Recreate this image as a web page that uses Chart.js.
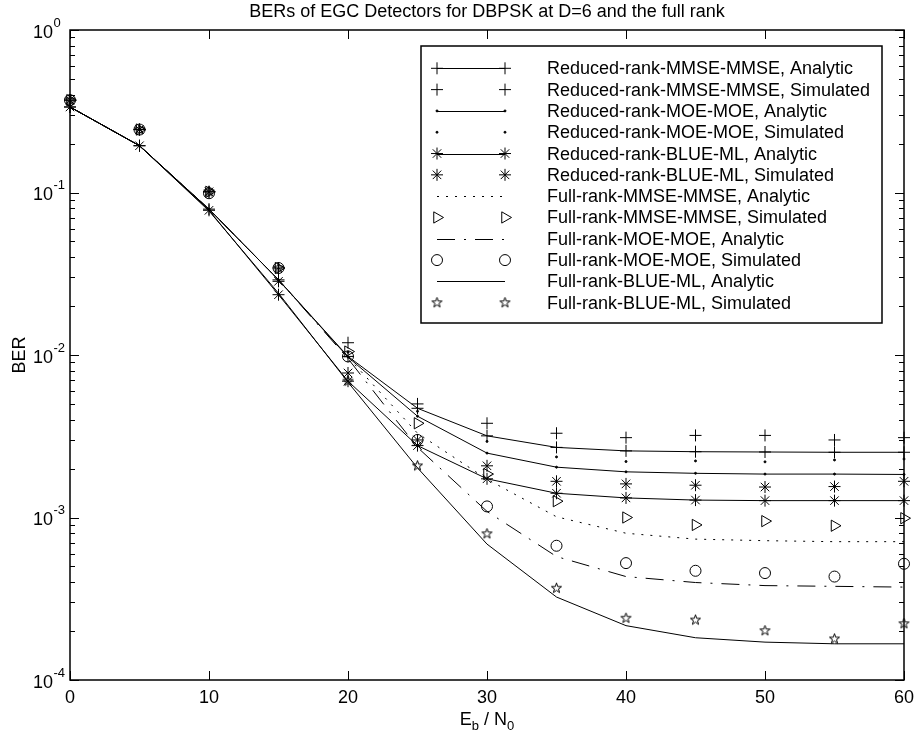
<!DOCTYPE html>
<html>
<head>
<meta charset="utf-8">
<title>BERs of EGC Detectors</title>
<script src="https://cdn.jsdelivr.net/npm/chart.js@4.4.1/dist/chart.umd.min.js"></script>
<style>
  html, body { margin: 0; padding: 0; background: #fff; }
  canvas { display: block; }
</style>
</head>
<body>
<canvas id="ber" width="915" height="740"></canvas>
<script>
// ---- data: BER vs Eb/N0 (dB) ----
const snr = [0, 5, 10, 15, 20, 25, 30, 35, 40, 45, 50, 55, 60];

const rrMmseAna = [0.336, 0.194, 0.079, 0.029, 0.0098, 0.0047, 0.00318, 0.0027, 0.00257, 0.00254, 0.00253, 0.00252, 0.00252];
const rrMmseSim = [0.37, 0.244, 0.101, 0.0343, 0.0119, 0.0050, 0.0038, 0.0033, 0.0031, 0.0032, 0.0032, 0.0030, 0.0031];
const rrMoeAna  = [0.336, 0.194, 0.079, 0.029, 0.0097, 0.0042, 0.00249, 0.00204, 0.00191, 0.00187, 0.00185, 0.00185, 0.00184];
const rrMoeSim  = [0.37, 0.244, 0.101, 0.034, 0.0104, 0.0045, 0.00294, 0.00236, 0.00221, 0.00223, 0.0022, 0.00226, 0.00229];
const rrBlueAna = [0.336, 0.194, 0.0777, 0.0235, 0.0069, 0.00277, 0.00173, 0.00141, 0.00132, 0.00128, 0.00127, 0.00127, 0.00127];
const rrBlueSim = [0.37, 0.244, 0.101, 0.0284, 0.00775, 0.0030, 0.00208, 0.00167, 0.00161, 0.00158, 0.00154, 0.00155, 0.00167];
const frMmseAna = [0.336, 0.194, 0.079, 0.029, 0.0097, 0.0033, 0.00172, 0.00101, 0.0008, 0.000736, 0.00072, 0.00071, 0.00071];
const frMmseSim = [0.37, 0.244, 0.101, 0.0343, 0.0105, 0.0038, 0.00185, 0.00126, 0.0010, 0.0009, 0.00095, 0.00089, 0.00099];
const frMoeAna  = [0.336, 0.194, 0.079, 0.029, 0.0095, 0.0027, 0.00109, 0.000575, 0.000433, 0.000398, 0.000381, 0.000377, 0.000373];
const frMoeSim  = [0.37, 0.244, 0.099, 0.0343, 0.0098, 0.0030, 0.00117, 0.00067, 0.000524, 0.00047, 0.000455, 0.000433, 0.000519];
const frBlueAna = [0.336, 0.194, 0.077, 0.024, 0.0068, 0.00202, 0.000686, 0.000324, 0.000216, 0.000182, 0.000171, 0.000167, 0.000167];
const frBlueSim = [0.37, 0.244, 0.101, 0.0343, 0.0069, 0.00208, 0.000794, 0.000367, 0.00024, 0.000234, 0.000201, 0.000179, 0.000222];

const seriesNames = [
    'Reduced-rank-MMSE-MMSE, Analytic',
    'Reduced-rank-MMSE-MMSE, Simulated',
    'Reduced-rank-MOE-MOE, Analytic',
    'Reduced-rank-MOE-MOE, Simulated',
    'Reduced-rank-BLUE-ML, Analytic',
    'Reduced-rank-BLUE-ML, Simulated',
    'Full-rank-MMSE-MMSE, Analytic',
    'Full-rank-MMSE-MMSE, Simulated',
    'Full-rank-MOE-MOE, Analytic',
    'Full-rank-MOE-MOE, Simulated',
    'Full-rank-BLUE-ML, Analytic',
    'Full-rank-BLUE-ML, Simulated',
];

const xTicks = [0, 10, 20, 30, 40, 50, 60];
const yDecades = [1, 1e-1, 1e-2, 1e-3, 1e-4];
const yExponents = ['0', '-1', '-2', '-3', '-4'];

const titleText = 'BERs of EGC Detectors for DBPSK at D=6 and the full rank';

// ---- styles ----
const FONT = '"Liberation Sans", Arial, Helvetica, sans-serif';
const SOLID = [];
const DOTTED = [2, 7];
const DASHDOT = [18, 9, 2, 9];

// five-pointed star marker, drawn once to an offscreen canvas
function makePentagram(r) {
    const size = Math.ceil(r * 2 + 4);
    const c = document.createElement('canvas');
    c.width = size; c.height = size;
    const g = c.getContext('2d');
    g.beginPath();
    for (let i = 0; i < 10; i++) {
        const rad = i % 2 === 0 ? r : r * 0.40;
        const a = -Math.PI / 2 + i * Math.PI / 5;
        const px = size / 2 + rad * Math.cos(a);
        const py = size / 2 + rad * Math.sin(a);
        i === 0 ? g.moveTo(px, py) : g.lineTo(px, py);
    }
    g.closePath();
    g.lineWidth = 1;
    g.strokeStyle = '#000';
    g.stroke();
    return c;
}

const MARK = {
    plus:  { pointStyle: 'cross', pointRadius: 6 },
    dot:   { pointStyle: 'circle', pointRadius: 1, pointBackgroundColor: '#000' },
    aster: { pointStyle: 'star', pointRadius: 6 },
    tri:   { pointStyle: 'triangle', pointRadius: 6.5, pointRotation: 90 },
    ring:  { pointStyle: 'circle', pointRadius: 5.5 },
    penta: { pointStyle: makePentagram(5.3), pointRadius: 5 },
    none:  { pointRadius: 0 },
};

// [values, marker, line] per legend row; line null = markers only
const rows = [
    [rrMmseAna, 'plus', SOLID],
    [rrMmseSim, 'plus', null],
    [rrMoeAna, 'dot', SOLID],
    [rrMoeSim, 'dot', null],
    [rrBlueAna, 'aster', SOLID],
    [rrBlueSim, 'aster', null],
    [frMmseAna, 'none', DOTTED],
    [frMmseSim, 'tri', null],
    [frMoeAna, 'none', DASHDOT],
    [frMoeSim, 'ring', null],
    [frBlueAna, 'none', SOLID],
    [frBlueSim, 'penta', null],
];

const datasets = rows.map(([ys, mark, line], i) => Object.assign({
    label: seriesNames[i],
    data: snr.map((x, k) => ({ x, y: ys[k] })),
    showLine: line !== null,
    borderColor: '#000',
    borderWidth: 1,
    borderDash: line || [],
    pointBorderColor: '#000',
    pointBackgroundColor: 'rgba(0,0,0,0)',
    pointBorderWidth: 1,
    pointHoverRadius: 0,
    tension: 0,
    fill: false,
    clip: 12,
}, MARK[mark]));

// ---- legend marker drawing (same shapes as the chart points) ----
function drawMarker(ctx, mark, px, py) {
    const m = MARK[mark];
    if (m.pointRadius === 0) return;
    const r = m.pointRadius;
    ctx.beginPath();
    if (m.pointStyle === 'cross') {
        ctx.moveTo(px - r, py); ctx.lineTo(px + r, py);
        ctx.moveTo(px, py - r); ctx.lineTo(px, py + r);
        ctx.stroke();
    } else if (m.pointStyle === 'star') {
        for (let k = 0; k < 4; k++) {
            const a = k * Math.PI / 4;
            ctx.moveTo(px - r * Math.cos(a), py - r * Math.sin(a));
            ctx.lineTo(px + r * Math.cos(a), py + r * Math.sin(a));
        }
        ctx.stroke();
    } else if (m.pointStyle === 'triangle') {
        for (let k = 0; k < 3; k++) {
            const a = k * 2 * Math.PI / 3;
            const vx = px + r * Math.cos(a), vy = py + r * Math.sin(a);
            k ? ctx.lineTo(vx, vy) : ctx.moveTo(vx, vy);
        }
        ctx.closePath();
        ctx.stroke();
    } else if (m.pointStyle === 'circle') {
        ctx.arc(px, py, r, 0, Math.PI * 2);
        if (m.pointBackgroundColor) { ctx.fill(); }
        ctx.stroke();
    } else {
        const img = m.pointStyle;
        ctx.drawImage(img, px - img.width / 2, py - img.height / 2);
    }
}

// ---- axes frame, inward ticks, labels, title and legend ----
const LEG = { left: 421, top: 46, right: 882, bottom: 323, row0: 68.3, step: 21.31, x1: 437, x2: 505, text: 547 };

const framePlugin = {
    id: 'matlabFrame',
    afterDraw(chart) {
        const { ctx, chartArea: a, scales: { x, y } } = chart;
        ctx.save();
        ctx.strokeStyle = '#000';
        ctx.fillStyle = '#000';
        ctx.setLineDash([]);

        // ticks
        ctx.lineWidth = 1;
        ctx.beginPath();
        xTicks.forEach(v => {
            const px = Math.round(x.getPixelForValue(v)) + 0.5;
            ctx.moveTo(px, a.bottom); ctx.lineTo(px, a.bottom - 9);
            ctx.moveTo(px, a.top); ctx.lineTo(px, a.top + 9);
        });
        yDecades.forEach((d, i) => {
            const mults = i === 0 ? [1] : [1, 2, 3, 4, 5, 6, 7, 8, 9];
            mults.forEach(m => {
                const py = Math.round(y.getPixelForValue(m * d)) + 0.5;
                const len = m === 1 ? 9 : 5;
                ctx.moveTo(a.left, py); ctx.lineTo(a.left + len, py);
                ctx.moveTo(a.right, py); ctx.lineTo(a.right - len, py);
            });
        });
        ctx.stroke();

        // box
        ctx.lineWidth = 1.5;
        ctx.strokeRect(a.left, a.top, a.right - a.left, a.bottom - a.top);

        // x tick labels
        ctx.font = `18px ${FONT}`;
        ctx.textAlign = 'center';
        ctx.textBaseline = 'alphabetic';
        xTicks.forEach(v => ctx.fillText(String(v), x.getPixelForValue(v), a.bottom + 23));

        // y tick labels: 10 with raised exponent
        yDecades.forEach((d, i) => {
            const py = y.getPixelForValue(d);
            ctx.font = `18px ${FONT}`;
            ctx.textAlign = 'right';
            ctx.fillText('10', a.left - 17, py + 7.5);
            ctx.font = `13px ${FONT}`;
            ctx.textAlign = 'left';
            ctx.fillText(yExponents[i], a.left - 16.5, py - 3.5);
        });

        // title
        ctx.font = `18px ${FONT}`;
        ctx.textAlign = 'center';
        ctx.fillText(titleText, (a.left + a.right) / 2, 17);

        // y axis label
        ctx.save();
        ctx.translate(25, (a.top + a.bottom) / 2);
        ctx.rotate(-Math.PI / 2);
        ctx.textAlign = 'center';
        ctx.fillText('BER', 0, 0);
        ctx.restore();

        // x axis label: E_b / N_0
        const parts = [['E', 18, 0], ['b', 13, 5], [' / N', 18, 0], ['0', 13, 5]];
        let total = 0;
        parts.forEach(([t, s]) => { ctx.font = `${s}px ${FONT}`; total += ctx.measureText(t).width; });
        let cx = (a.left + a.right) / 2 - total / 2;
        ctx.textAlign = 'left';
        parts.forEach(([t, s, dy]) => {
            ctx.font = `${s}px ${FONT}`;
            ctx.fillText(t, cx, 725 + dy);
            cx += ctx.measureText(t).width;
        });

        // legend
        ctx.fillStyle = '#fff';
        ctx.fillRect(LEG.left, LEG.top, LEG.right - LEG.left, LEG.bottom - LEG.top);
        ctx.fillStyle = '#000';
        ctx.lineWidth = 1.5;
        ctx.strokeRect(LEG.left, LEG.top, LEG.right - LEG.left, LEG.bottom - LEG.top);
        ctx.font = `18px ${FONT}`;
        ctx.textAlign = 'left';
        rows.forEach(([, mark, line], i) => {
            const ry = LEG.row0 + i * LEG.step;
            ctx.lineWidth = 1;
            if (line !== null) {
                ctx.setLineDash(line);
                ctx.beginPath();
                ctx.moveTo(LEG.x1, Math.round(ry) + 0.5);
                ctx.lineTo(LEG.x2, Math.round(ry) + 0.5);
                ctx.stroke();
                ctx.setLineDash([]);
            }
            drawMarker(ctx, mark, LEG.x1, ry);
            drawMarker(ctx, mark, LEG.x2, ry);
            ctx.fillText(seriesNames[i], LEG.text, ry + 6);
        });
        ctx.restore();
    },
};

new Chart(document.getElementById('ber'), {
    type: 'line',
    data: { datasets },
    options: {
        responsive: false,
        animation: false,
        events: [],
        layout: { padding: { left: 70, top: 30, right: 11, bottom: 60 } },
        plugins: { legend: { display: false }, tooltip: { enabled: false }, title: { display: false } },
        scales: {
            x: { type: 'linear', min: 0, max: 60, display: false },
            y: { type: 'logarithmic', min: 1e-4, max: 1, display: false },
        },
    },
    plugins: [framePlugin],
});
</script>
</body>
</html>
